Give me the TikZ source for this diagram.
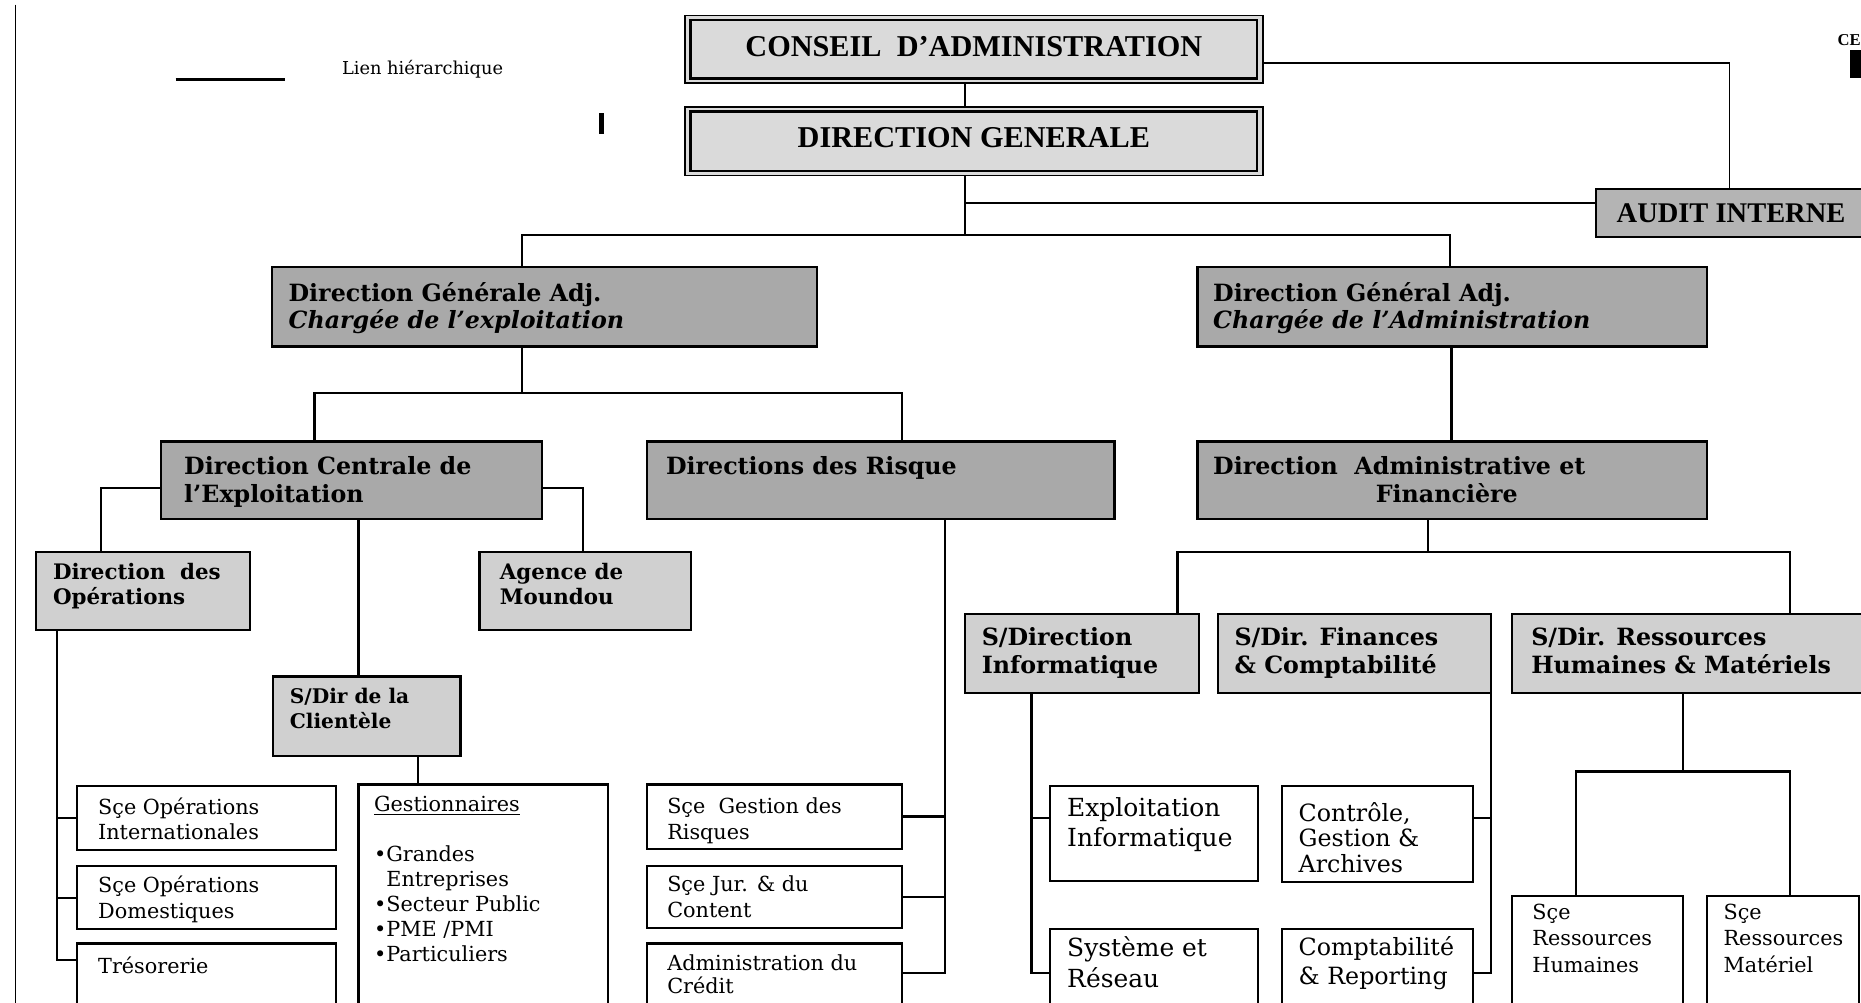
\documentclass[tikz,border=0pt]{standalone}
\usepackage{fontspec}
\setmainfont{DejaVu Serif}
\newfontfamily\tms{Liberation Serif}
\usetikzlibrary{calc}
\definecolor{gTop}{HTML}{DADADA}
\definecolor{gAud}{HTML}{B4B4B4}
\definecolor{gDir}{HTML}{A9A9A9}
\definecolor{gSub}{HTML}{D0D0D0}
\tikzset{
  box/.style={draw=black, line width=1.8pt, anchor=north west, inner sep=0pt, outer sep=0pt},
  topbox/.style={box, fill=gTop, line width=1.3pt},
  auditbox/.style={box, fill=gAud},
  dirbox/.style={box, fill=gDir},
  subbox/.style={box, fill=gSub},
  svcbox/.style={box, fill=white},
  link/.style={line width=1.9pt},
  thinlink/.style={line width=1.2pt},
  lbl/.style={anchor=north west, inner sep=0pt, align=left},
}
\newcommand\Bx[6]{\node[#2, minimum width={(#5-#3)*1pt}, minimum height={(#6-#4)*1pt}] (#1) at (#3,#4) {};}
\newcommand\Tx[7]{\node[lbl, font=\fontsize{#4}{#5}\selectfont#6] (#1) at ({#2},{#3+0.33*#4-0.7*#5}) {\strut #7};}
\begin{document}
\begin{tikzpicture}[x=1pt,y=-1pt]
\useasboundingbox (0,0) rectangle (1568,845);
\clip (0,0) rectangle (1568,845);
\fill[white] (0,0) rectangle (1568,845);

% left border and marks
\draw[line width=1.4pt] (13,4) -- (13,845);
\coordinate (lgA) at (148,67);
\coordinate (lgB) at (240,67);
\draw[line width=2.2pt] (lgA) -- (lgB);
\Tx{lgt}{288}{57.5}{15}{18}{}{Lien hiérarchique}
\fill (505,95) rectangle (509,113);
\node[anchor=west, inner sep=0pt, font=\tms\bfseries\fontsize{14}{16}\selectfont] (ce) at (1548,34) {CE};
\fill (1559,42) rectangle (1572,66);

% top boxes
\node[topbox, minimum width=487pt, minimum height=57pt, font=\tms\bfseries\fontsize{25.5}{30}\selectfont] (ca) at (577,13) {\raisebox{2pt}[\height][\depth]{CONSEIL\ \ D’ADMINISTRATION}};
\draw[line width=2.2pt] ($(ca.north west)+(5,4)$) rectangle ($(ca.south east)+(-5,-4)$);
\node[topbox, minimum width=487pt, minimum height=58pt, font=\tms\bfseries\fontsize{25.5}{30}\selectfont] (dg) at (577,90) {\raisebox{3pt}[\height][\depth]{DIRECTION GENERALE}};
\draw[line width=2.2pt] ($(dg.north west)+(5,4)$) rectangle ($(dg.south east)+(-5,-4)$);
\node[auditbox, minimum width=227pt, minimum height=41pt, font=\tms\bfseries\fontsize{24}{28}\selectfont] (audit) at (1345,159) {AUDIT INTERNE};

% boxes
\Bx{dgae}{dirbox}{229}{225}{688}{292}
\Bx{dgaa}{dirbox}{1009}{225}{1438}{292}
\Bx{dce}{dirbox}{136}{372}{457}{437}
\Bx{dr}{dirbox}{545}{372}{939}{437}
\Bx{daf}{dirbox}{1009}{372}{1438}{437}
\Bx{ops}{subbox}{30}{465}{211}{531}
\Bx{agence}{subbox}{404}{465}{582}{531}
\Bx{sdcli}{subbox}{230}{570}{388}{637}
\Bx{sdi}{subbox}{813}{517}{1010}{584}
\Bx{sdfc}{subbox}{1026}{517}{1256}{584}
\Bx{sdrh}{subbox}{1274}{517}{1572}{584}
\Bx{intl}{svcbox}{65}{662}{283}{716}
\Bx{dom}{svcbox}{65}{730}{283}{783}
\Bx{tres}{svcbox}{65}{795}{283}{870}
\Bx{gest}{svcbox}{302}{661}{512}{870}
\Bx{sgr}{svcbox}{545}{661}{760}{715}
\Bx{sjur}{svcbox}{545}{730}{760}{782}
\Bx{admcr}{svcbox}{545}{795}{760}{870}
\Bx{expl}{svcbox}{885}{662}{1060}{742}
\Bx{sys}{svcbox}{885}{783}{1060}{870}
\Bx{ctrl}{svcbox}{1080}{662}{1241}{743}
\Bx{compta}{svcbox}{1080}{783}{1241}{870}
\Bx{scerh}{svcbox}{1274}{755}{1418}{870}
\Bx{scerm}{svcbox}{1438}{755}{1566}{870}

% texts
\Tx{dgae-t}{243}{247}{20}{23}{\bfseries}{Direction Générale Adj.\\{\itshape Chargée de l’exploitation}}
\Tx{dgaa-t}{1022}{247}{20}{23}{\bfseries}{Direction Général Adj.\\{\itshape Chargée de l’Administration}}
\Tx{dce-t}{155}{393}{20}{24}{\bfseries}{Direction Centrale de\\l’Exploitation}
\Tx{dr-t}{561}{393}{20}{24}{\bfseries}{Directions des Risque}
\Tx{daf-t}{1022}{393}{20}{24}{\bfseries}{Direction\ \ Administrative et\\\hspace*{137pt}Financière}
\Tx{ops-t}{44.5}{482}{18}{21}{\bfseries}{Direction\ \ des\\Opérations}
\Tx{agence-t}{421}{482}{18}{21}{\bfseries}{Agence de\\Moundou}
\Tx{sdcli-t}{244}{587}{17}{21}{\bfseries}{S/Dir de la\\Clientèle}
\Tx{sdi-t}{827}{537}{20}{23.5}{\bfseries}{S/Direction\\Informatique}
\Tx{sdfc-t}{1040}{537}{20}{23.5}{\bfseries}{S/Dir. Finances\\\& Comptabilité}
\Tx{sdrh-t}{1290}{537}{20}{23.5}{\bfseries}{S/Dir. Ressources\\Humaines \& Matériels}
\Tx{intl-t}{82.5}{680}{17.5}{21.5}{}{Sçe Opérations\\Internationales}
\Tx{dom-t}{82.5}{746}{17.5}{21.5}{}{Sçe Opérations\\Domestiques}
\Tx{tres-t}{82.5}{814.5}{17.5}{21.5}{}{Trésorerie}
\Tx{gest-t}{315}{678}{17.5}{21}{}{\underline{Gestionnaires}\\\strut\\•Grandes\\\phantom{•}Entreprises\\•Secteur Public\\•PME /PMI\\•Particuliers}
\Tx{sgr-t}{562}{679.5}{17.5}{21.5}{}{Sçe\ \ Gestion des\\Risques}
\Tx{sjur-t}{562}{745.5}{17.5}{21.5}{}{Sçe Jur. \& du\\Content}
\Tx{admcr-t}{562}{811.5}{17.5}{20}{}{Administration du\\Crédit}
\Tx{expl-t}{899}{681}{21}{25}{}{Exploitation\\Informatique}
\Tx{sys-t}{899}{799}{21}{26}{}{Système et\\Réseau}
\Tx{ctrl-t}{1094}{684}{20}{21.5}{}{Contrôle,\\Gestion \&\\Archives}
\Tx{compta-t}{1094}{798}{20}{25}{}{Comptabilité\\\& Reporting}
\Tx{scerh-t}{1291}{769}{17.5}{22}{}{Sçe\\Ressources\\Humaines}
\Tx{scerm-t}{1452}{769}{17.5}{22}{}{Sçe\\Ressources\\Matériel}

% connectors: top
\coordinate (xTrunk) at (813,0);
\draw[link] (ca.south -| xTrunk) -- (dg.north -| xTrunk);
\coordinate (jA) at (1457,53);
\draw[thinlink] (ca.east |- jA) -- (jA) -- (audit.north -| jA);
\coordinate (jB) at (813,171);
\coordinate (jC) at (813,198);
\draw[link] (dg.south -| xTrunk) -- (jC);
\draw[link] (jB) -- (audit.west |- jB);
\coordinate (jD) at (440,198);
\coordinate (jE) at (1222,198);
\draw[link] (dgae.north -| jD) -- (jD) -- (jE) -- (dgaa.north -| jE);

% exploitation branch
\coordinate (jF) at (440,331);
\coordinate (jG) at (265,331);
\coordinate (jH) at (760,331);
\draw[link] (dgae.south -| jF) -- (jF);
\draw[link] (dce.north -| jG) -- (jG) -- (jH) -- (dr.north -| jH);
\coordinate (jL) at (85,411);
\coordinate (jM) at (491,411);
\draw[link] (dce.west |- jL) -- (jL) -- (ops.north -| jL);
\draw[link] (dce.east |- jM) -- (jM) -- (agence.north -| jM);
\coordinate (xCli) at (302,0);
\draw[link] (dce.south -| xCli) -- (sdcli.north -| xCli);
\coordinate (xGes) at (352,0);
\draw[link] (sdcli.south -| xGes) -- (gest.north -| xGes);
\coordinate (xOps) at (48,0);
\coordinate (jN) at (48,809);
\draw[link] (ops.south -| xOps) -- (jN) -- (tres.west |- jN);
\draw[link] (intl.west) -- (intl.west -| xOps);
\draw[link] (dom.west) -- (dom.west -| xOps);

% risques branch
\coordinate (jO) at (796,820);
\draw[link] (dr.south -| jO) -- (jO) -- (admcr.east |- jO);
\draw[link] (sgr.east) -- (sgr.east -| jO);
\draw[link] (sjur.east) -- (sjur.east -| jO);

% administration branch
\coordinate (xAdm) at (1223,0);
\draw[link] (dgaa.south -| xAdm) -- (daf.north -| xAdm);
\coordinate (jI) at (1203,465);
\coordinate (jJ) at (992,465);
\coordinate (jK) at (1508,465);
\draw[link] (daf.south -| jI) -- (jI);
\draw[link] (sdi.north -| jJ) -- (jJ) -- (jK) -- (sdrh.north -| jK);
\coordinate (jP) at (869,820);
\coordinate (jQ) at (869,689.5);
\draw[link] (sdi.south -| jP) -- (jP) -- (sys.west |- jP);
\draw[link] (expl.west |- jQ) -- (jQ);
\coordinate (jR) at (1257,820);
\coordinate (jS) at (1257,689);
\draw[link] (sdfc.south east) -- (sdfc.south east |- jR) -- (compta.east |- jR);
\draw[link] (ctrl.east |- jS) -- (jS);
\coordinate (xRh) at (1418,0);
\coordinate (jT) at (1418,650);
\coordinate (jU) at (1328,650);
\coordinate (jV) at (1508,650);
\draw[link] (sdrh.south -| xRh) -- (jT);
\draw[link] (scerh.north -| jU) -- (jU) -- (jV) -- (scerm.north -| jV);
\end{tikzpicture}
\end{document}
